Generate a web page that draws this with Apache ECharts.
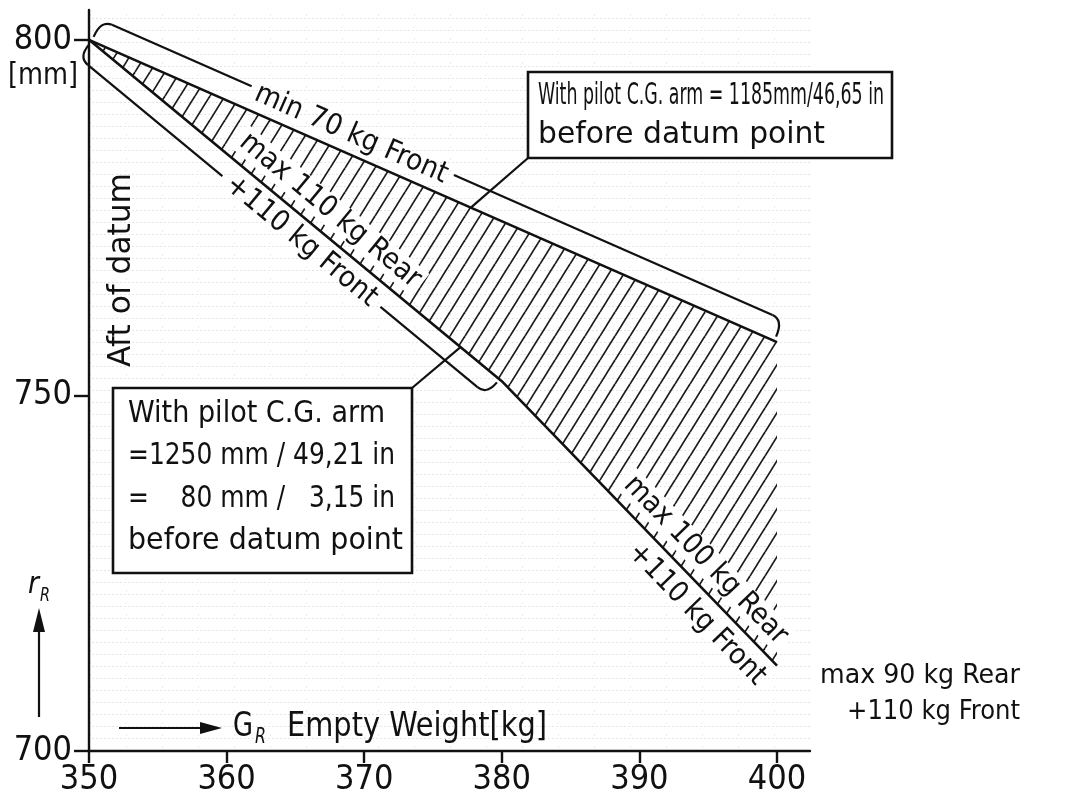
<!DOCTYPE html>
<html>
<head>
<meta charset="utf-8">
<title>C.G. range - empty weight</title>
<script src="https://cdn.jsdelivr.net/npm/echarts@6/dist/echarts.min.js"></script>
<style>
    html, body { margin: 0; padding: 0; background: #fff; }
    #chart { width: 1092px; height: 803px; }
</style>
</head>
<body>
<div id="chart"></div>
<script>
// G_R empty weight [kg] against r_R arm [mm]
var xTicks = [350, 360, 370, 380, 390, 400];
var yTicks = [700, 750, 800];

// upper limit: min 70 kg front
var upperWeight = [350, 400];
var upperArm = [800, 757.5];

// lower limit: max 110 kg rear, then max 100 kg rear (+110 kg front)
var lowerWeight = [350, 380, 400];
var lowerArm = [800, 752, 712];

var FONT = "'Liberation Sans Narrow', 'DejaVu Sans Condensed', 'Liberation Sans', sans-serif";
var INK = '#111';

function pairs(xs, ys) {
    return xs.map(function (x, i) { return [x, ys[i]]; });
}

// diagonal hatch tile for the permissible range
function hatchTile() {
    var w = 15, h = 24;
    var c = document.createElement('canvas');
    c.width = w; c.height = h;
    var ctx = c.getContext('2d');
    ctx.strokeStyle = '#1a1a1a';
    ctx.lineWidth = 1.7;
    for (var k = -1; k <= 1; k++) {
        ctx.beginPath();
        ctx.moveTo(k * w, h);
        ctx.lineTo(k * w + w, 0);
        ctx.stroke();
    }
    return c;
}

// faint dotted graph paper look of the scan
function paperTile() {
    var c = document.createElement('canvas');
    c.width = 36; c.height = 12;
    var ctx = c.getContext('2d');
    ctx.fillStyle = 'rgba(0,0,0,0.10)';
    for (var x = 0; x < 36; x += 4) ctx.fillRect(x, 6, 2, 1);
    ctx.fillStyle = 'rgba(0,0,0,0.07)';
    ctx.fillRect(18, 2, 1, 2);
    return c;
}

var chart = echarts.init(document.getElementById('chart'));

var option = {
    backgroundColor: '#fff',
    animation: false,
    grid: {
        left: 89, right: 282, top: 10, bottom: 52,
        show: true, borderWidth: 0,
        backgroundColor: { image: paperTile(), repeat: 'repeat' }
    },
    xAxis: {
        type: 'value',
        min: 350, max: 402.4,
        axisLine: { show: true, onZero: false, lineStyle: { color: INK, width: 2.4 } },
        axisTick: { show: true, length: 12, customValues: xTicks, lineStyle: { color: INK, width: 2.4 } },
        axisLabel: { customValues: xTicks, color: INK, fontFamily: FONT, fontSize: 34, margin: 12 },
        splitLine: { show: false }
    },
    yAxis: {
        type: 'value',
        min: 700, max: 804.2,
        axisLine: { show: true, onZero: false, lineStyle: { color: INK, width: 2.4 } },
        axisTick: { show: true, length: 15, customValues: yTicks, lineStyle: { color: INK, width: 2.4 } },
        axisLabel: { customValues: yTicks, color: INK, fontFamily: FONT, fontSize: 34, margin: 17 },
        splitLine: { show: false }
    },
    series: [
        {
            type: 'custom',
            name: 'permissible range',
            silent: true,
            z: 1,
            data: [[upperWeight[0], upperArm[0]]],
            renderItem: function (params, api) {
                var pts = pairs(upperWeight, upperArm)
                    .concat(pairs(lowerWeight, lowerArm).reverse())
                    .map(function (p) { return api.coord(p); });
                return {
                    type: 'polygon',
                    shape: { points: pts },
                    style: { fill: { image: hatchTile(), repeat: 'repeat' }, stroke: null }
                };
            }
        },
        {
            type: 'line',
            name: 'min 70 kg Front',
            data: pairs(upperWeight, upperArm),
            symbol: 'none', z: 3,
            lineStyle: { color: INK, width: 2.6 }
        },
        {
            type: 'line',
            name: 'max rear',
            data: pairs(lowerWeight, lowerArm),
            symbol: 'none', z: 3,
            lineStyle: { color: INK, width: 2.6 }
        }
    ]
};
chart.setOption(option);

// ---- annotations, placed from the limit lines ----
var mctx = document.createElement('canvas').getContext('2d');

function textWidth(str, size) {
    mctx.font = size + 'px ' + FONT;
    return mctx.measureText(str).width;
}

function label(str, x, y, size, width, extra) {
    extra = extra || {};
    var s = width ? width / textWidth(str, size) : (extra.scale || 1);
    var style = {
        text: str, font: size + 'px ' + FONT, fill: INK,
        align: extra.align || 'left', textAlign: extra.align || 'left',
        verticalAlign: 'middle', textVerticalAlign: 'middle'
    };
    if (extra.bg) { style.backgroundColor = '#fff'; style.padding = [0, 4]; }
    if (extra.italic) { style.font = 'italic ' + style.font; }
    return { type: 'text', x: x, y: y, scaleX: s, rotation: extra.rotation || 0, z: 20, style: style };
}

function stroke(w) {
    return { stroke: INK, lineWidth: w || 2.4, fill: null };
}

function px(p) {
    return chart.convertToPixel({ gridIndex: 0 }, p);
}

// frame along a segment P->Q: t along it, off to its left-hand side
function segFrame(P, Q) {
    var dx = Q[0] - P[0], dy = Q[1] - P[1];
    var L = Math.sqrt(dx * dx + dy * dy);
    var ux = dx / L, uy = dy / L;
    return {
        L: L,
        rot: -Math.atan2(dy, dx),
        at: function (t, off) {
            return [P[0] + ux * t + uy * off, P[1] + uy * t - ux * off];
        }
    };
}

// bracket parallel to a limit line, hooked at both ends, gap left for its text
function bracket(f, d, gapA, gapB) {
    var r = 12, L = f.L, out = [];
    var a0 = f.at(3, d * 0.2), a1 = f.at(3 + r, d), c0 = f.at(3, d);
    var b0 = f.at(L - 3, d * 0.2), b1 = f.at(L - 3 - r, d), c1 = f.at(L - 3, d);
    out.push({ type: 'bezierCurve', z: 15, shape: { x1: a0[0], y1: a0[1], x2: a1[0], y2: a1[1], cpx1: c0[0], cpy1: c0[1] }, style: stroke(2.2) });
    out.push({ type: 'polyline', z: 15, shape: { points: [a1, f.at(gapA * L, d)] }, style: stroke(2.2) });
    out.push({ type: 'polyline', z: 15, shape: { points: [f.at(gapB * L, d), b1] }, style: stroke(2.2) });
    out.push({ type: 'bezierCurve', z: 15, shape: { x1: b1[0], y1: b1[1], x2: b0[0], y2: b0[1], cpx1: c1[0], cpy1: c1[1] }, style: stroke(2.2) });
    return out;
}

var up = segFrame(px(pairs(upperWeight, upperArm)[0]), px(pairs(upperWeight, upperArm)[1]));
var lowPts = pairs(lowerWeight, lowerArm).map(px);
var lo1 = segFrame(lowPts[0], lowPts[1]);
var lo2 = segFrame(lowPts[1], lowPts[2]);

var g = [];
g = g.concat(bracket(up, 23, 0.223, 0.517));
g = g.concat(bracket(lo1, -20, 0.354, 0.737));

var p;
p = up.at(0.37 * up.L, 19);
g.push(label('min 70 kg Front', p[0], p[1], 29, 208, { align: 'center', rotation: up.rot }));
p = lo1.at(0.55 * lo1.L, 22);
g.push(label('max 110 kg Rear', p[0], p[1], 29, 226, { align: 'center', rotation: lo1.rot, bg: true }));
p = lo1.at(0.545 * lo1.L, -20);
g.push(label('+110 kg Front', p[0], p[1], 29, 188, { align: 'center', rotation: lo1.rot }));
p = lo2.at(0.683 * lo2.L, 22);
g.push(label('max 100 kg Rear', p[0], p[1], 29, 222, { align: 'center', rotation: lo2.rot, bg: true }));
p = lo2.at(0.766 * lo2.L, -22);
g.push(label('+110 kg Front', p[0], p[1], 29, 185, { align: 'center', rotation: lo2.rot }));

// callout: 1185 mm arm
var t1 = up.at(0.555 * up.L, 0);
g.push({ type: 'polyline', z: 14, shape: { points: [[528, 158], t1] }, style: stroke(2.2) });
g.push({ type: 'rect', z: 16, shape: { x: 528, y: 72, width: 364, height: 86 }, style: { fill: '#fff', stroke: INK, lineWidth: 2.6 } });
g.push(label('With pilot C.G. arm = 1185mm/46,65 in', 538, 96, 31, 346));
g.push(label('before datum point', 538, 135, 31, 287));

// callout: 1250 mm arm
var t2 = lo1.at(0.9 * lo1.L, 0);
g.push({ type: 'polyline', z: 14, shape: { points: [[412, 388], t2] }, style: stroke(2.2) });
g.push({ type: 'rect', z: 16, shape: { x: 113, y: 388, width: 299, height: 185 }, style: { fill: '#fff', stroke: INK, lineWidth: 2.6 } });
g.push(label('With pilot C.G. arm', 128, 414, 30, 257));
var line2 = '=1250 mm / 49,21 in';
var s2 = 267 / textWidth(line2, 30);
g.push(label(line2, 128, 456, 30, 267));
var slashEnd = 128 + textWidth('=1250 mm /', 30) * s2;
g.push(label('=', 128, 499, 30, null, { scale: s2 }));
g.push(label('80 mm /', slashEnd, 499, 30, null, { scale: s2, align: 'right' }));
g.push(label('3,15 in', 395, 499, 30, null, { scale: s2, align: 'right' }));
g.push(label('before datum point', 128, 541, 30, 275));

// right side note
g.push(label('max 90 kg Rear', 1020, 676, 27, 200, { align: 'right' }));
g.push(label('+110 kg Front', 1020, 712, 27, 173, { align: 'right' }));

// axis captions
g.push(label('Aft of datum', 122, 270, 32, 194, { align: 'center', rotation: Math.PI / 2 }));
g.push(label('[mm]', 8, 76, 30, 70));
g.push({ type: 'polyline', z: 14, shape: { points: [[119, 728], [206, 728]] }, style: stroke(2.2) });
g.push({ type: 'polygon', z: 14, shape: { points: [[200, 722], [222, 728], [200, 734]] }, style: { fill: INK } });
g.push(label('G', 233, 727, 33, 20));
g.push(label('R', 255, 737, 22, 11, { italic: true }));
g.push(label('Empty Weight[kg]', 287, 727, 33, 260));
g.push({ type: 'polyline', z: 14, shape: { points: [[39, 717], [39, 628]] }, style: stroke(2.2) });
g.push({ type: 'polygon', z: 14, shape: { points: [[33, 632], [39, 608], [45, 632]] }, style: { fill: INK } });
g.push(label('r', 28, 585, 30, 11, { italic: true }));
g.push(label('R', 40, 596, 20, 10, { italic: true }));

chart.setOption({ graphic: { elements: g } });

window.addEventListener('resize', function () {
    chart.resize();
});
</script>
</body>
</html>
